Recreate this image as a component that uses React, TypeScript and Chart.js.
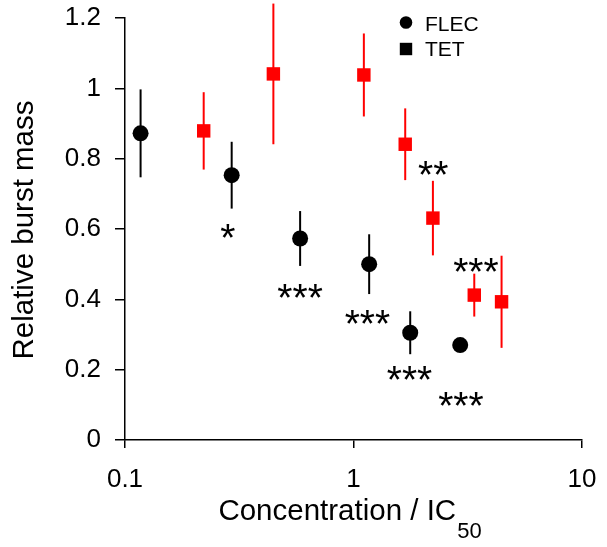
import React, { useEffect, useRef } from 'react';
import { Chart, registerables } from 'chart.js';

Chart.register(...registerables);

// ---- data ----
const SERIES_NAMES = ['FLEC', 'TET'];
const FLEC_X = [0.117, 0.293, 0.584, 1.171, 1.771, 2.931];
const FLEC_Y = [0.872, 0.753, 0.573, 0.5, 0.305, 0.27];
const FLEC_ERR = [0.125, 0.095, 0.078, 0.085, 0.061, 0.015];
const TET_X = [0.221, 0.446, 1.11, 1.684, 2.226, 3.377, 4.446];
const TET_Y = [0.879, 1.041, 1.038, 0.841, 0.631, 0.412, 0.393];
const TET_ERR = [0.11, 0.2, 0.118, 0.102, 0.106, 0.061, 0.131];
const SIG_TEXT = ['*', '***', '***', '***', '***', '**', '***'];
const SIG_X = [0.282, 0.584, 1.151, 1.758, 2.952, 2.233, 3.434];
const SIG_Y = [0.602, 0.431, 0.358, 0.198, 0.125, 0.78, 0.504];
const X_TICKS = [0.1, 1, 10];
const Y_MIN = 0;
const Y_MAX = 1.2;
const Y_STEP = 0.2;
const X_TITLE = 'Concentration / IC';
const X_TITLE_SUB = '50';
const Y_TITLE = 'Relative burst mass';

const FONT = 'Arial, "Liberation Sans", sans-serif';

const errorBarPlugin = {
  id: 'errorBars',
  beforeDatasetsDraw(chart: any) {
    const { ctx, scales } = chart;
    const x = scales.x;
    const y = scales.y;
    chart.data.datasets.forEach((ds: any) => {
      ctx.save();
      ctx.strokeStyle = ds.errorColor;
      ctx.lineWidth = 2;
      ds.data.forEach((p: any, i: number) => {
        const e = ds.errors[i];
        const px = x.getPixelForValue(p.x);
        ctx.beginPath();
        ctx.moveTo(px, y.getPixelForValue(p.y + e));
        ctx.lineTo(px, y.getPixelForValue(p.y - e));
        ctx.stroke();
      });
      ctx.restore();
    });
  },
};

const decorPlugin = {
  id: 'decor',
  afterDatasetsDraw(chart: any) {
    const { ctx, scales, chartArea } = chart;
    const x = scales.x;
    const y = scales.y;
    ctx.save();
    ctx.fillStyle = '#000';

    // significance stars
    ctx.font = `39px ${FONT}`;
    ctx.textAlign = 'center';
    ctx.textBaseline = 'alphabetic';
    SIG_TEXT.forEach((t, i) => {
      const px = x.getPixelForValue(SIG_X[i]);
      const py = y.getPixelForValue(SIG_Y[i]);
      ctx.fillText(t, px, py + 22.5);
    });

    // legend
    ctx.font = `21px ${FONT}`;
    ctx.textAlign = 'left';
    ctx.beginPath();
    ctx.arc(406, 22.5, 6.3, 0, Math.PI * 2);
    ctx.fill();
    ctx.fillText(chart.data.datasets[0].label, 425, 31);
    ctx.fillRect(406 - 6.2, 49 - 6.2, 12.4, 12.4);
    ctx.fillText(chart.data.datasets[1].label, 425, 55.5);

    // y title
    ctx.save();
    ctx.font = `29.5px ${FONT}`;
    ctx.translate(33, (chartArea.top + chartArea.bottom) / 2 + 1);
    ctx.rotate(-Math.PI / 2);
    ctx.textAlign = 'center';
    ctx.fillText(Y_TITLE, 0, 0);
    ctx.restore();

    // x title with subscript
    ctx.font = `29.5px ${FONT}`;
    const w1 = ctx.measureText(X_TITLE).width;
    ctx.font = `22px ${FONT}`;
    const w2 = ctx.measureText(X_TITLE_SUB).width;
    const cx = (chartArea.left + chartArea.right) / 2 - 4;
    const sx = cx - (w1 + w2) / 2;
    ctx.textAlign = 'left';
    ctx.font = `29.5px ${FONT}`;
    ctx.fillText(X_TITLE, sx, 520);
    ctx.font = `22px ${FONT}`;
    ctx.fillText(X_TITLE_SUB, sx + w1 + 1, 538);

    ctx.restore();
  },
};

const zeroPad = (s: any) => {
  s.paddingTop = 0;
  s.paddingBottom = 0;
  s.paddingLeft = 0;
  s.paddingRight = 0;
};

export default function App() {
  const canvasRef = useRef<HTMLCanvasElement | null>(null);

  useEffect(() => {
    document.body.style.margin = '0';
    const canvas = canvasRef.current;
    if (!canvas) return;
    const chart = new Chart(canvas, {
      type: 'scatter',
      data: {
        datasets: [
          {
            label: SERIES_NAMES[0],
            data: FLEC_X.map((v, i) => ({ x: v, y: FLEC_Y[i] })),
            pointStyle: 'circle',
            pointRadius: 8,
            pointHoverRadius: 8,
            backgroundColor: '#000000',
            borderColor: '#000000',
            borderWidth: 0,
            errors: FLEC_ERR,
            errorColor: '#000000',
          } as any,
          {
            label: SERIES_NAMES[1],
            data: TET_X.map((v, i) => ({ x: v, y: TET_Y[i] })),
            pointStyle: 'rect',
            pointRadius: 9.5,
            pointHoverRadius: 9.5,
            backgroundColor: '#ff0000',
            borderColor: '#ff0000',
            borderWidth: 0,
            errors: TET_ERR,
            errorColor: '#ff0000',
          } as any,
        ],
      },
      options: {
        animation: false,
        responsive: false,
        maintainAspectRatio: false,
        devicePixelRatio: 1,
        layout: { padding: { top: 18, right: 25, bottom: 0, left: 0 } },
        plugins: {
          legend: { display: false },
          tooltip: { enabled: false },
          title: { display: false },
        },
        scales: {
          x: {
            type: 'logarithmic',
            position: 'bottom',
            min: 0.1,
            max: 10,
            afterBuildTicks: (s: any) => {
              s.ticks = X_TICKS.map((v) => ({ value: v }));
            },
            afterFit: (s: any) => {
              s.height = 107;
              zeroPad(s);
            },
            ticks: {
              autoSkip: false,
              maxRotation: 0,
              padding: 16,
              color: '#000',
              font: { family: FONT, size: 26 },
              callback: (v: any) => String(v),
            },
            grid: {
              drawOnChartArea: false,
              drawTicks: true,
              tickLength: 8,
              color: '#000',
              lineWidth: 1.5,
            },
            border: { display: true, color: '#000', width: 1.5 },
          } as any,
          y: {
            type: 'linear',
            min: Y_MIN,
            max: Y_MAX,
            afterFit: (s: any) => {
              s.width = 125;
              zeroPad(s);
            },
            ticks: {
              stepSize: Y_STEP,
              padding: 14,
              color: '#000',
              font: { family: FONT, size: 26 },
              callback: (v: any) => String(parseFloat(Number(v).toFixed(1))),
            },
            grid: {
              drawOnChartArea: false,
              drawTicks: true,
              tickLength: 10,
              color: '#000',
              lineWidth: 1.5,
            },
            border: { display: true, color: '#000', width: 1.5 },
          } as any,
        },
      },
      plugins: [errorBarPlugin, decorPlugin],
    });
    return () => chart.destroy();
  }, []);

  return (
    <div style={{ width: 607, height: 547, position: 'relative', background: '#fff' }}>
      <canvas ref={canvasRef} width={607} height={547} />
    </div>
  );
}
